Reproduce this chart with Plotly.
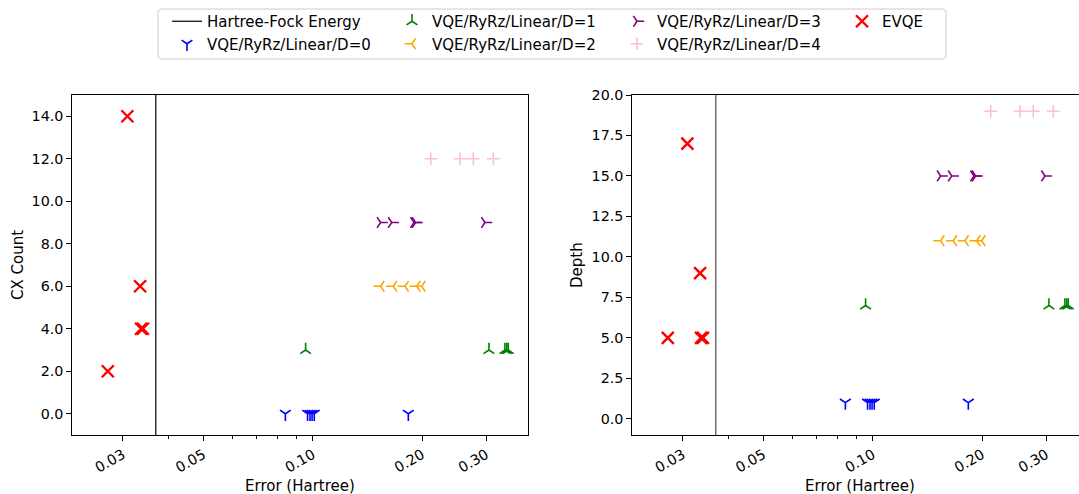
import math
import plotly.graph_objects as go

# ---------------- data ----------------
hf_error = 0.037

d0_err = [0.0841, 0.0968, 0.0983, 0.0996, 0.1010, 0.1833]
d0_cx = [0, 0, 0, 0, 0, 0]
d0_depth = [1, 1, 1, 1, 1, 1]

d1_err = [0.0956, 0.3055, 0.3380, 0.3420, 0.3453]
d1_cx = [3, 3, 3, 3, 3]
d1_depth = [7, 7, 7, 7, 7]

d2_err = [0.1538, 0.1666, 0.1795, 0.1933, 0.1995]
d2_cx = [6, 6, 6, 6, 6]
d2_depth = [11, 11, 11, 11, 11]

d3_err = [0.1538, 0.1650, 0.1900, 0.1920, 0.2979]
d3_cx = [9, 9, 9, 9, 9]
d3_depth = [15, 15, 15, 15, 15]

d4_err = [0.2113, 0.2543, 0.2766, 0.3140]
d4_cx = [12, 12, 12, 12]
d4_depth = [19, 19, 19, 19]

evqe_err = [0.0273, 0.0309, 0.0335, 0.0337, 0.0341]
evqe_cx = [2, 14, 6, 4, 4]
evqe_depth = [5, 17, 9, 5, 5]

x_tickvals = [0.03, 0.05, 0.10, 0.20, 0.30]
x_ticktext = ["0.03", "0.05", "0.10", "0.20", "0.30"]
x_minor = [0.04, 0.06, 0.07, 0.08, 0.09]

# ---------------- figure ----------------
W, H = 1079, 494
FONT = "DejaVu Sans"
TICK_SIZE = 14.3
TITLE_SIZE = 15

series = [
    ("VQE/RyRz/Linear/D=0", d0_err, d0_cx, d0_depth, "blue", "y-down", 9, 1.6, 5),
    ("VQE/RyRz/Linear/D=1", d1_err, d1_cx, d1_depth, "green", "y-up", 9, 1.6, 2),
    ("VQE/RyRz/Linear/D=2", d2_err, d2_cx, d2_depth, "orange", "y-left", 9, 1.6, 6),
    ("VQE/RyRz/Linear/D=3", d3_err, d3_cx, d3_depth, "purple", "y-right", 9, 1.6, 3),
    ("VQE/RyRz/Linear/D=4", d4_err, d4_cx, d4_depth, "pink", "cross-thin", 9, 1.6, 7),
    ("EVQE", evqe_err, evqe_cx, evqe_depth, "red", "x-thin", 12, 2.4, 4),
]

fig = go.Figure()

yr1 = [-1.0, 15.0]
yr2 = [-1.0, 20.0]

fig.add_trace(go.Scatter(
    x=[hf_error, hf_error], y=yr1, mode="lines", name="Hartree-Fock Energy",
    line=dict(color="black", width=1.2), xaxis="x", yaxis="y", legendrank=1,
    hoverinfo="skip"))
fig.add_trace(go.Scatter(
    x=[hf_error, hf_error], y=yr2, mode="lines", name="Hartree-Fock Energy",
    line=dict(color="#666666", width=1.4), xaxis="x2", yaxis="y2",
    showlegend=False, hoverinfo="skip"))

for name, ex, cx, dp, col, sym, size, lw, rank in series:
    mk = dict(symbol=sym, size=size, color=col, line=dict(color=col, width=lw))
    fig.add_trace(go.Scatter(x=ex, y=cx, mode="markers", name=name, marker=mk,
                             xaxis="x", yaxis="y", legendrank=rank))
    fig.add_trace(go.Scatter(x=ex, y=dp, mode="markers", name=name, marker=mk,
                             xaxis="x2", yaxis="y2", showlegend=False))

def px_x(p):
    return p / W

def px_y(p):
    return 1 - p / H

xcommon = dict(
    type="log", tickmode="array", tickvals=x_tickvals, ticktext=x_ticktext,
    tickangle=-30, ticks="outside", ticklen=5, tickwidth=1, tickcolor="black",
    showline=True, linecolor="black", linewidth=1, mirror=True,
    showgrid=False, zeroline=False, automargin=False,
    tickfont=dict(family=FONT, size=TICK_SIZE, color="black"),
    minor=dict(tickmode="array", tickvals=x_minor, ticks="outside", ticklen=3,
               tickwidth=0.8, tickcolor="black", showgrid=False),
)
ycommon = dict(
    ticks="outside", ticklen=5, tickwidth=1, tickcolor="black",
    showline=True, linecolor="black", linewidth=1,
    showgrid=False, zeroline=False, automargin=False, tickformat=".1f",
    tickfont=dict(family=FONT, size=TICK_SIZE, color="black"),
)

ydom = [px_y(435), px_y(95)]

def rounded_rect(x0p, x1p, y0p, y1p, r):
    # pixel-based rounded rectangle converted to paper fractions
    def P(x, y):
        return f"{x / W:.5f},{1 - y / H:.5f}"
    return (f"M {P(x0p + r, y0p)} L {P(x1p - r, y0p)} Q {P(x1p, y0p)} {P(x1p, y0p + r)} "
            f"L {P(x1p, y1p - r)} Q {P(x1p, y1p)} {P(x1p - r, y1p)} "
            f"L {P(x0p + r, y1p)} Q {P(x0p, y1p)} {P(x0p, y1p - r)} "
            f"L {P(x0p, y0p + r)} Q {P(x0p, y0p)} {P(x0p + r, y0p)} Z")

title_font = dict(family=FONT, size=TITLE_SIZE, color="black")

fig.update_layout(
    width=W, height=H,
    margin=dict(l=0, r=0, t=0, b=0, autoexpand=False),
    paper_bgcolor="white", plot_bgcolor="white",
    font=dict(family=FONT, size=14, color="black"),
    xaxis=dict(domain=[px_x(72.3), px_x(528.3)],
               range=[math.log10(0.0218), math.log10(0.392)], anchor="y", **xcommon),
    xaxis2=dict(domain=[px_x(632.3), 1.0],
                range=[math.log10(0.0218), math.log10(0.3696)], anchor="y2", **xcommon),
    yaxis=dict(domain=ydom, range=yr1, dtick=2, tick0=0, anchor="x", mirror=True, **ycommon),
    yaxis2=dict(domain=ydom, range=yr2, dtick=2.5, tick0=0, anchor="x2", mirror=False, **ycommon),
    legend=dict(orientation="h", x=px_x(167), y=px_y(5), xanchor="left", yanchor="top",
                borderwidth=0, bgcolor="rgba(0,0,0,0)",
                font=dict(family=FONT, size=15, color="black"),
                entrywidth=180, entrywidthmode="pixels", tracegroupgap=0),
    shapes=[dict(type="path", xref="paper", yref="paper",
                 path=rounded_rect(158, 946, 9, 59, 4),
                 line=dict(color="#cccccc", width=1), fillcolor="white", layer="below")],
    annotations=[
        dict(text="Error (Hartree)", x=px_x(300), y=px_y(486), xref="paper", yref="paper",
             showarrow=False, font=title_font, xanchor="center", yanchor="middle"),
        dict(text="Error (Hartree)", x=px_x(860), y=px_y(486), xref="paper", yref="paper",
             showarrow=False, font=title_font, xanchor="center", yanchor="middle"),
        dict(text="CX Count", x=px_x(18), y=px_y(265), xref="paper", yref="paper",
             showarrow=False, textangle=-90, font=title_font,
             xanchor="center", yanchor="middle"),
        dict(text="Depth", x=px_x(577), y=px_y(265), xref="paper", yref="paper",
             showarrow=False, textangle=-90, font=title_font,
             xanchor="center", yanchor="middle"),
    ],
)

fig.write_html("out.html", config={"displayModeBar": False},
               post_script="document.body.style.margin='0px';document.body.style.overflow='hidden';")
